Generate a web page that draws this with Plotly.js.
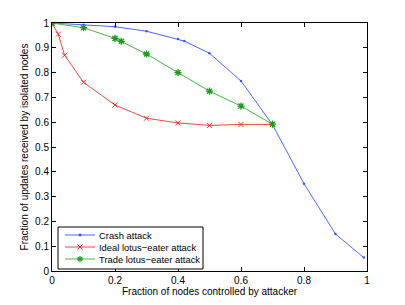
<!DOCTYPE html>
<html>
<head>
<meta charset="utf-8">
<script src="https://cdn.plot.ly/plotly-3.0.1.min.js"></script>
<style>html,body{margin:0;padding:0;background:#fff;}#chart{width:405px;height:305px;}</style>
</head>
<body>
<div id="chart"></div>
<script>
const crashX = [0, 0.1, 0.2, 0.3, 0.4, 0.42, 0.5, 0.6, 0.7, 0.8, 0.9, 0.99];
const crashY = [1, 0.993, 0.985, 0.967, 0.935, 0.927, 0.878, 0.766, 0.59, 0.352, 0.149, 0.054];
const idealX = [0, 0.02, 0.04, 0.1, 0.2, 0.3, 0.4, 0.5, 0.6, 0.7];
const idealY = [1, 0.955, 0.870, 0.761, 0.669, 0.616, 0.597, 0.587, 0.591, 0.591];
const tradeX = [0, 0.1, 0.2, 0.22, 0.3, 0.4, 0.5, 0.6, 0.7];
const tradeY = [1, 0.981, 0.938, 0.926, 0.875, 0.800, 0.725, 0.665, 0.592];
const xTicks = [0, 0.2, 0.4, 0.6, 0.8, 1];
const xTickText = ["0", "0.2", "0.4", "0.6", "0.8", "1"];
const yTicks = [0, 0.1, 0.2, 0.3, 0.4, 0.5, 0.6, 0.7, 0.8, 0.9, 1];
const yTickText = ["0", "0.1", "0.2", "0.3", "0.4", "0.5", "0.6", "0.7", "0.8", "0.9", "1"];
const names = ["Crash attack", "Ideal lotus\u2212eater attack", "Trade lotus\u2212eater attack"];
const colors = ["#4a68ff", "#f04848", "#40bb40"];
const markerColors = ["#3355ff", "#e83030", "#1c9a1c"];

const fam = "Liberation Sans, Arial, sans-serif";
const font = {family: fam, size: 10, color: "#000"};
const legFont = {family: fam, size: 9.4, color: "#000"};

const M = {l: 52, r: 38, t: 23, b: 34}, W = 405, H = 305;
const PW = W - M.l - M.r, PH = H - M.t - M.b;
const px = v => (v - M.l) / PW;          // pixel x -> paper x
const py = v => (H - M.b - v) / PH;      // pixel y -> paper y

const traces = [
  {x: crashX, y: crashY, name: names[0], mode: "lines+markers",
   line: {color: colors[0], width: 1}, marker: {symbol: "circle", size: 2.5, color: markerColors[0]}},
  {x: idealX, y: idealY, name: names[1], mode: "lines+markers",
   line: {color: colors[1], width: 1}, marker: {symbol: "x-thin-open", size: 5, color: markerColors[1], line: {width: 1, color: markerColors[1]}}},
  {x: tradeX, y: tradeY, name: names[2], mode: "lines+markers",
   line: {color: colors[2], width: 1}, marker: {symbol: "asterisk-open", size: 6, color: markerColors[2], line: {width: 1.3, color: markerColors[2]}}}
];

// custom legend (MATLAB-style compact box)
const box = {x0: 58, x1: 203, y0: 227, y1: 269};
const rowY = [235, 247, 259];
const lineX0 = 65, lineX1 = 95, textX = 98;
const shapes = [{type: "rect", xref: "paper", yref: "paper", layer: "above",
  x0: px(box.x0), x1: px(box.x1), y0: py(box.y1), y1: py(box.y0),
  line: {color: "#000", width: 1}, fillcolor: "#fff"}];
const seg = (x0, y0, x1, y1, c, w) => ({type: "line", xref: "paper", yref: "paper", layer: "above",
  x0: px(x0), y0: py(y0), x1: px(x1), y1: py(y1), line: {color: c, width: w}});
const annotations = [];
names.forEach((n, i) => {
  const y = rowY[i], cx = (lineX0 + lineX1) / 2;
  shapes.push(seg(lineX0, y, lineX1, y, colors[i], 1));
  const mc = markerColors[i];
  if (i === 0) {
    shapes.push({type: "circle", xref: "paper", yref: "paper", layer: "above",
      x0: px(cx - 1.2), x1: px(cx + 1.2), y0: py(y + 1.2), y1: py(y - 1.2),
      line: {color: mc, width: 0.5}, fillcolor: mc});
  } else if (i === 1) {
    shapes.push(seg(cx - 2.5, y - 2.5, cx + 2.5, y + 2.5, mc, 1));
    shapes.push(seg(cx - 2.5, y + 2.5, cx + 2.5, y - 2.5, mc, 1));
  } else {
    shapes.push(seg(cx - 3, y, cx + 3, y, mc, 1.2));
    shapes.push(seg(cx, y - 3, cx, y + 3, mc, 1.2));
    shapes.push(seg(cx - 2.2, y - 2.2, cx + 2.2, y + 2.2, mc, 1.2));
    shapes.push(seg(cx - 2.2, y + 2.2, cx + 2.2, y - 2.2, mc, 1.2));
  }
  annotations.push({xref: "paper", yref: "paper", x: px(textX), y: py(y), xanchor: "left", yanchor: "middle",
    text: n, showarrow: false, font: legFont, borderpad: 0});
});

const layout = {
  width: W, height: H,
  margin: M,
  paper_bgcolor: "#fff", plot_bgcolor: "#fff",
  font: font,
  showlegend: false,
  shapes: shapes,
  annotations: annotations,
  xaxis: {range: [0, 1], tickvals: xTicks, ticktext: xTickText, ticks: "inside", ticklen: 4,
    tickcolor: "#000", showline: true, linecolor: "#000", linewidth: 1, mirror: "ticks",
    showgrid: false, zeroline: false, tickfont: font,
    title: {text: "Fraction of nodes controlled by attacker", font: font, standoff: 2}},
  yaxis: {range: [0, 1], tickvals: yTicks, ticktext: yTickText, ticks: "inside", ticklen: 4,
    tickcolor: "#000", showline: true, linecolor: "#000", linewidth: 1, mirror: "ticks",
    showgrid: false, zeroline: false, tickfont: font,
    title: {text: "Fraction of updates received by isolated nodes", font: font, standoff: 4}}
};
Plotly.newPlot("chart", traces, layout, {displayModeBar: false, staticPlot: true});
</script>
</body>
</html>
